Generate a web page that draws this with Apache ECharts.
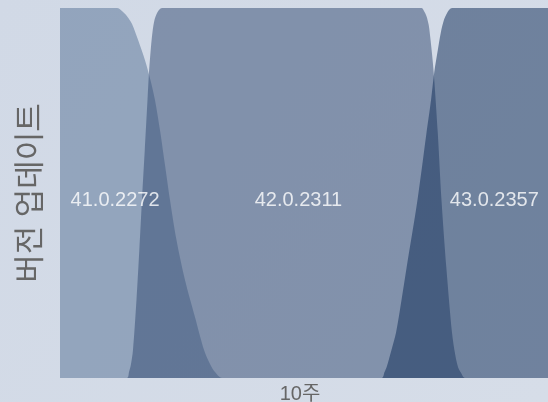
<!DOCTYPE html>
<html>
<head>
<meta charset="utf-8">
<script src="https://cdn.jsdelivr.net/npm/echarts@6/dist/echarts.min.js"></script>
<style>
html,body{margin:0;padding:0;background:#d3dbe7;}
#chart{width:548px;height:402px;}
</style>
</head>
<body>
<div id="chart"></div>
<script>
// x = day within the 10-week window (0..70), y = share of users on the version (%)
var versions = ['41.0.2272', '42.0.2311', '43.0.2357'];

var v41 = [[0,100],[8.18,100],[8.89,99.2],[9.61,97.8],[10.33,95.7],[11.19,91.4],[12.19,85.9],[12.98,80.5],[13.63,75.1],[14.34,67.0],[15.06,57.6],[15.78,48.1],[16.71,37.3],[17.93,26.5],[19.36,16.5],[20.66,7.6],[21.59,3.5],[22.23,1.6],[23.24,0],[70,0]];

var v42 = [[0,0],[9.61,0],[9.90,1.6],[10.16,3.5],[10.47,7.6],[10.97,21.1],[11.38,34.6],[11.76,48.1],[12.16,61.6],[12.55,75.1],[12.77,82.7],[13.01,88.6],[13.27,93.5],[13.56,96.8],[13.91,98.6],[14.27,99.6],[14.63,100],[51.85,100],[52.21,99.2],[52.57,97.8],[52.89,95.4],[53.15,91.4],[53.45,85.9],[53.69,80.5],[54.19,66.2],[54.72,48.1],[55.41,30.0],[56.23,12.2],[56.70,6.2],[57.09,3.0],[57.52,1.4],[58.09,0],[70,0]];

var v43 = [[0,0],[46.15,0],[46.55,1.6],[46.86,3.0],[47.55,7.6],[48.20,12.2],[48.99,21.1],[49.73,30.0],[51.28,48.1],[52.57,66.2],[53.22,75.1],[53.69,82.7],[54.19,88.6],[54.61,93.2],[55.08,96.8],[55.51,98.6],[55.87,99.6],[56.23,100],[70,100]];

var seriesData = [v41, v42, v43];
var seriesColors = ['#536f93', '#2f476f', '#092753'];
var labelDays = [7.9, 34.2, 62.3];
var labelLevel = 48;

var FONT = "'Liberation Sans', 'Noto Sans CJK KR', sans-serif";

var chart = echarts.init(document.getElementById('chart'), null, {renderer: 'canvas'});

var series = seriesData.map(function (d, i) {
  return {
    name: versions[i],
    type: 'line',
    data: d,
    smooth: 0.3,
    symbol: 'none',
    lineStyle: {width: 0},
    areaStyle: {color: seriesColors[i], opacity: 0.5},
    silent: true,
    z: 2 + i
  };
});

series.push({
  type: 'scatter',
  symbolSize: 0,
  silent: true,
  z: 10,
  data: versions.map(function (v, i) { return [labelDays[i], labelLevel, v]; }),
  label: {
    show: true,
    position: 'inside',
    formatter: function (p) { return p.value[2]; },
    color: '#ffffff',
    fontSize: 20,
    fontFamily: FONT
  }
});

chart.setOption({
  backgroundColor: {
    type: 'linear', x: 0, y: 0, x2: 1, y2: 1,
    colorStops: [{offset: 0, color: '#d1d9e6'}, {offset: 1, color: '#d6dde8'}]
  },
  animation: false,
  grid: {left: 60, right: 0, top: 8, bottom: 24, containLabel: false, outerBoundsMode: 'none'},
  xAxis: {
    type: 'value',
    min: 0,
    max: 70,
    name: '10주',
    nameLocation: 'middle',
    nameGap: 6,
    nameTextStyle: {color: '#666666', fontSize: 20, fontFamily: FONT, padding: [0, 8, 0, 0]},
    axisLine: {show: false},
    axisTick: {show: false},
    axisLabel: {show: false},
    splitLine: {show: false}
  },
  yAxis: {
    type: 'value',
    min: 0,
    max: 100,
    name: '버전 업데이트',
    nameLocation: 'middle',
    nameGap: 13,
    nameTextStyle: {color: '#666666', fontSize: 31, fontFamily: FONT},
    axisLine: {show: false},
    axisTick: {show: false},
    axisLabel: {show: false},
    splitLine: {show: false}
  },
  series: series
});
</script>
</body>
</html>
